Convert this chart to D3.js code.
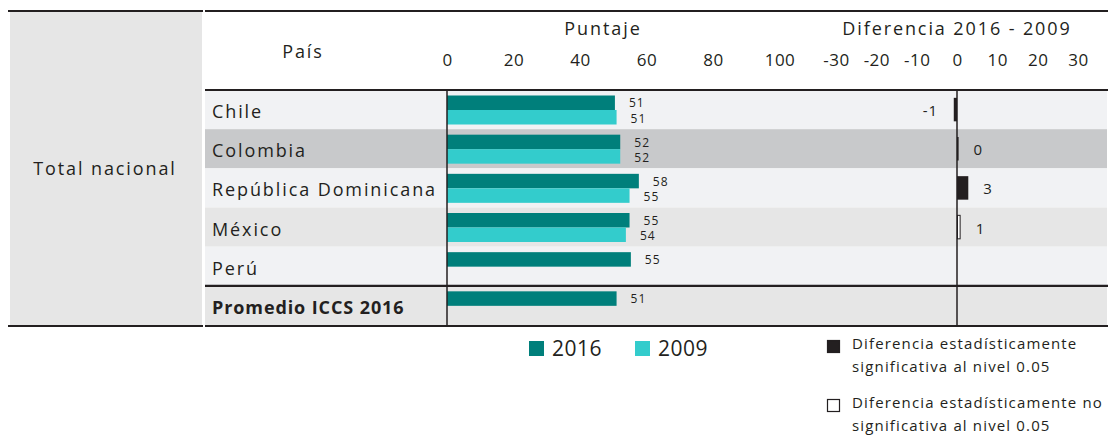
<!DOCTYPE html>
<html><head><meta charset="utf-8">
<script src="https://cdn.jsdelivr.net/npm/d3@7"></script>
<style>
body{margin:0;background:#fff}
text{font-family:"Open Sans",sans-serif;fill:#231f20}
</style>
</head><body>
<svg id="c" width="1110" height="435"></svg>
<script>
// ---- data ----
const countries = ["Chile","Colombia","República Dominicana","México","Perú","Promedio ICCS 2016"];
const years = ["2016","2009"];
const score2016 = [50.5, 52.1, 57.7, 54.9, 55.3, 51.0];
const score2009 = [51.0, 52.1, 54.9, 53.8, null, null];
const diffValues = [-0.8, 0.4, 2.8, 0.9, null, null];
const diffLabels = ["-1", "0", "3", "1", null, null];
const diffSignificant = [true, true, true, false, null, null];
const scoreTicks = [0, 20, 40, 60, 80, 100];
const diffTicks = [-30, -20, -10, 0, 10, 20, 30];
const rowColors = ["#f1f2f4", "#c8c9cb", "#f1f2f4", "#e6e6e6", "#f1f2f4", "#e6e6e6"];

const svg = d3.select("#c");
const ink = "#231f20";

// scales
const x = d3.scaleLinear().domain([0, 100]).range([447, 779.5]);
const xd = d3.scaleLinear().domain([-30, 30]).range([836, 1078]);
const y = d3.scaleBand().domain(countries).range([90, 325]);
const rowH = y.bandwidth();
const yy = d3.scaleBand().domain(years).range([5.5, 34.5]);
const color = d3.scaleOrdinal().domain(years).range(["#007f7b", "#33cccc"]);

// left panel
svg.append("rect").attr("x", 10).attr("y", 12).attr("width", 192).attr("height", 313).attr("fill", "#e6e6e6");
svg.append("text").attr("x", 105).attr("y", 175).attr("text-anchor", "middle")
  .style("font-size", "18px").style("letter-spacing", "1.9px").text("Total nacional");

// row backgrounds
svg.append("g").selectAll("rect").data(countries).join("rect")
  .attr("x", 205).attr("width", 902)
  .attr("y", d => y(d)).attr("height", rowH)
  .attr("fill", (d, i) => rowColors[i]);

// country labels
svg.append("g").selectAll("text").data(countries).join("text")
  .attr("x", 212).attr("y", d => y(d) + rowH / 2 + 8.5)
  .style("font-size", "18px")
  .style("letter-spacing", (d, i) => i === 5 ? "0.9px" : "1.9px")
  .style("font-weight", (d, i) => i === 5 ? "bold" : "normal")
  .text(d => d);

// header texts
svg.append("text").attr("x", 303).attr("y", 58).attr("text-anchor", "middle")
  .style("font-size", "18px").style("letter-spacing", "1.9px").text("País");
svg.append("text").attr("x", 603).attr("y", 35).attr("text-anchor", "middle")
  .style("font-size", "18px").style("letter-spacing", "1.9px").text("Puntaje");
svg.append("text").attr("x", 957).attr("y", 35).attr("text-anchor", "middle")
  .style("font-size", "18px").style("letter-spacing", "1.9px").text("Diferencia 2016 - 2009");

// axes (tick labels only)
function styleAxis(g) {
  g.select(".domain").remove();
  g.attr("font-family", null).attr("font-size", null);
  g.selectAll("text").style("font-size", "17px").style("letter-spacing", "0.5px").attr("fill", ink);
}
svg.append("g").attr("transform", "translate(0,66)")
  .call(d3.axisTop(x).tickValues(scoreTicks).tickSize(0).tickPadding(0).tickFormat(d => String(d)))
  .call(styleAxis);
svg.append("g").attr("transform", "translate(0,66)")
  .call(d3.axisTop(xd).tickValues(diffTicks).tickSize(0).tickPadding(0).tickFormat(d => String(d)))
  .call(styleAxis);

// score bars
const rows = countries.map((c, i) => ({c, i}));
const barData = [];
rows.forEach(r => {
  if (score2016[r.i] != null) barData.push({c: r.c, year: "2016", v: score2016[r.i]});
  if (score2009[r.i] != null) barData.push({c: r.c, year: "2009", v: score2009[r.i]});
});
svg.append("g").selectAll("rect").data(barData).join("rect")
  .attr("x", x(0)).attr("width", d => x(d.v) - x(0))
  .attr("y", d => y(d.c) + yy(d.year)).attr("height", yy.bandwidth())
  .attr("fill", d => color(d.year));
svg.append("g").selectAll("text").data(barData).join("text")
  .attr("x", d => x(d.v) + 14)
  .attr("y", d => y(d.c) + yy(d.year) + yy.bandwidth() / 2 + (d.year === "2016" ? 4.6 : 5.4))
  .style("font-size", "12px").style("letter-spacing", "1.1px")
  .text(d => Math.round(d.v));

// diff bars
const diffData = rows.filter(r => diffValues[r.i] != null)
  .map(r => ({c: r.c, v: diffValues[r.i], label: diffLabels[r.i], sig: diffSignificant[r.i]}));
const dH = 23.5;
svg.append("g").selectAll("rect").data(diffData).join("rect")
  .attr("x", d => Math.min(xd(0), xd(d.v)) + (d.sig ? 0 : 0.5))
  .attr("width", d => Math.abs(xd(d.v) - xd(0)) - (d.sig ? 0 : 1))
  .attr("y", d => y(d.c) + (rowH - dH) / 2).attr("height", dH)
  .attr("fill", d => d.sig ? ink : "#fff")
  .attr("stroke", d => d.sig ? "none" : ink).attr("stroke-width", 1);
svg.append("g").selectAll("text").data(diffData).join("text")
  .attr("x", d => d.v < 0 ? xd(d.v) - 16 : xd(d.v) + 15)
  .attr("text-anchor", d => d.v < 0 ? "end" : "start")
  .attr("y", d => y(d.c) + rowH / 2 + 6.5)
  .style("font-size", "15px").style("letter-spacing", "0.8px")
  .text(d => d.label);

// axis lines
svg.append("line").attr("x1", x(0)).attr("x2", x(0)).attr("y1", 90).attr("y2", 325)
  .attr("stroke", ink).attr("stroke-width", 1.5);
svg.append("line").attr("x1", xd(0)).attr("x2", xd(0)).attr("y1", 90).attr("y2", 325)
  .attr("stroke", ink).attr("stroke-width", 1.5);

// horizontal rules
const hl = (x1, x2, yv) => svg.append("line").attr("x1", x1).attr("x2", x2).attr("y1", yv).attr("y2", yv)
  .attr("stroke", ink).attr("stroke-width", 2.2);
hl(8, 203, 11); hl(205, 1108, 11);
hl(205, 1108, 90);
hl(205, 1108, y(countries[5]));
hl(8, 203, 326); hl(205, 1108, 326);

// legend years
const lg = svg.append("g").selectAll("g").data(years).join("g")
  .attr("transform", (d, i) => `translate(${529 + i * 106},341)`);
lg.append("rect").attr("width", 15).attr("height", 15).attr("fill", d => color(d));
lg.append("text").attr("x", 23).attr("y", 15).style("font-size", "21px").style("letter-spacing", "0.5px").text(d => d);

// legend significance
const sigLegend = [
  {fill: ink, lines: ["Diferencia estadísticamente", "significativa al nivel 0.05"], y: 340},
  {fill: "#fff", lines: ["Diferencia estadísticamente no", "significativa al nivel 0.05"], y: 399}
];
const sg = svg.append("g").selectAll("g").data(sigLegend).join("g")
  .attr("transform", d => `translate(827,${d.y})`);
sg.append("rect").attr("x", 0.5).attr("y", 0.5).attr("width", 12).attr("height", 12)
  .attr("fill", d => d.fill).attr("stroke", ink).attr("stroke-width", 1.2);
sg.selectAll("text").data(d => d.lines).join("text")
  .attr("x", 25).attr("y", (d, i) => 9 + i * 23)
  .style("font-size", "15px").style("letter-spacing", "1.15px")
  .text(d => d);
</script>
</body></html>
